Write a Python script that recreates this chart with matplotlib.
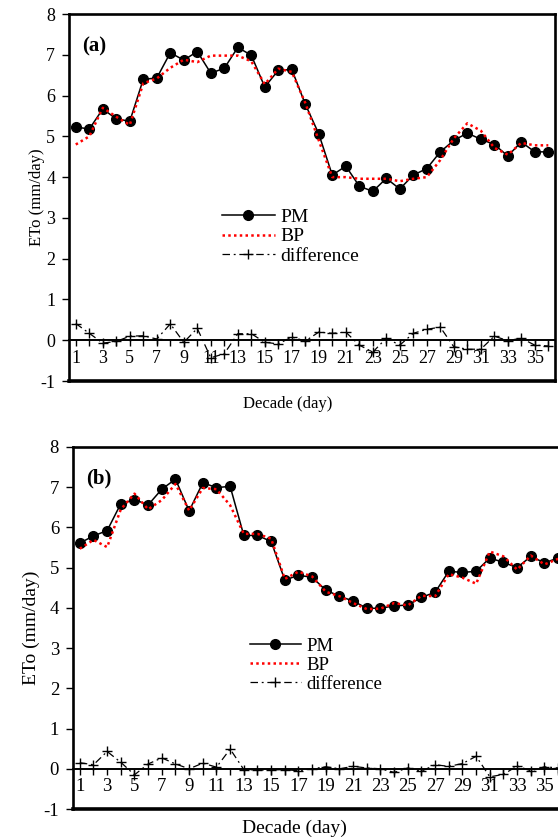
import matplotlib
matplotlib.use("Agg")
import matplotlib.pyplot as plt

plt.rcParams['font.family'] = ['Liberation Serif', 'DejaVu Serif']
plt.rcParams['axes.unicode_minus'] = False

decadas = list(range(1, 37))
rotulos_x = [str(d) if d % 2 == 1 else "" for d in decadas]
ticks_y = list(range(-1, 9))

# painel (a)
pm_a = [5.23, 5.18, 5.67, 5.43, 5.37, 6.40, 6.43, 7.05, 6.87, 7.08, 6.55, 6.67,
        7.18, 6.99, 6.21, 6.62, 6.64, 5.79, 5.06, 4.05, 4.27, 3.78, 3.65, 3.97,
        3.71, 4.05, 4.21, 4.62, 4.90, 5.08, 4.93, 4.80, 4.52, 4.86, 4.62, 4.62]
bp_a = [4.80, 5.00, 5.70, 5.48, 5.28, 6.30, 6.42, 6.68, 6.88, 6.82, 6.98, 6.98,
        6.98, 6.84, 6.28, 6.66, 6.58, 5.82, 4.90, 4.00, 4.00, 3.96, 3.96, 3.96,
        3.90, 3.96, 4.00, 4.42, 4.95, 5.32, 5.14, 4.72, 4.55, 4.84, 4.78, 4.78]
diff_a = [0.41, 0.17, -0.07, -0.03, 0.10, 0.11, 0.03, 0.40, -0.05, 0.29, -0.43, -0.33,
          0.16, 0.16, -0.05, -0.09, 0.08, -0.02, 0.20, 0.17, 0.20, -0.12, -0.29, 0.05,
          -0.12, 0.17, 0.27, 0.32, -0.16, -0.22, -0.22, 0.10, -0.01, 0.05, -0.12, -0.14]

# painel (b)
pm_b = [5.61, 5.79, 5.92, 6.59, 6.69, 6.56, 6.95, 7.20, 6.41, 7.11, 6.99, 7.02,
        5.80, 5.80, 5.65, 4.69, 4.81, 4.76, 4.44, 4.29, 4.17, 3.99, 3.99, 4.05,
        4.07, 4.26, 4.39, 4.91, 4.88, 4.91, 5.24, 5.13, 5.00, 5.28, 5.12, 5.24]
bp_b = [5.47, 5.69, 5.51, 6.45, 6.84, 6.45, 6.68, 7.08, 6.42, 6.98, 6.95, 6.55,
        5.84, 5.84, 5.72, 4.72, 4.90, 4.78, 4.40, 4.29, 4.12, 3.97, 3.98, 4.12,
        4.06, 4.30, 4.29, 4.84, 4.75, 4.60, 5.40, 5.28, 4.95, 5.30, 5.08, 5.22]
diff_b = [0.15, 0.10, 0.43, 0.16, -0.15, 0.12, 0.27, 0.12, 0.00, 0.14, 0.04, 0.49,
          -0.02, -0.03, -0.03, -0.02, -0.05, 0.00, 0.05, 0.00, 0.06, 0.02, 0.00, -0.09,
          0.02, -0.06, 0.10, 0.06, 0.13, 0.31, -0.20, -0.14, 0.07, -0.05, 0.05, 0.02]


def desenhar_painel(ax, pm, bp, diff, letra, fs, fs_label, fs_leg, leg_pos, ylab_x, xlab_y):
    ax.plot(decadas, pm, color='black', lw=1.1, marker='o', ms=7, label='PM', zorder=4)
    ax.plot(decadas, bp, color='#ff0000', lw=1.8, ls=(0, (1, 1.3)), label='BP', zorder=5)
    ax.plot(decadas, diff, color='black', lw=0.9, ls=(0, (6, 3, 1.5, 3)), marker='+',
            ms=7, mew=1.0, label='difference', zorder=3)

    ax.set_xlim(0.5, 36.5)
    ax.set_ylim(-1, 8)
    ax.set_yticks(ticks_y)
    ax.set_xticks(decadas)
    ax.set_xticklabels(rotulos_x)

    for lado in ['top', 'right', 'left']:
        ax.spines[lado].set_linewidth(1.9)
    ax.spines['bottom'].set_position(('data', 0))
    ax.spines['bottom'].set_linewidth(1.4)
    ax.axhline(-1, color='black', lw=2.6, clip_on=False, zorder=6)

    ax.tick_params(axis='y', direction='out', length=5, width=1, pad=5, labelsize=fs)
    ax.tick_params(axis='x', direction='out', length=4, width=1, pad=3, labelsize=fs)

    ax.set_ylabel('ETo (mm/day)', fontsize=fs_label)
    ax.yaxis.set_label_coords(ylab_x, 0.5)
    ax.set_xlabel('Decade (day)', fontsize=fs_label)
    ax.xaxis.set_label_coords(0.45, xlab_y)

    ax.text(0.027, 0.94, letra, transform=ax.transAxes, fontsize=15,
            fontweight='bold', va='top', ha='left')

    ax.legend(loc='upper left', bbox_to_anchor=leg_pos, frameon=False, fontsize=fs_leg,
              handlelength=2.7, handletextpad=0.3, labelspacing=0.1,
              borderpad=0, borderaxespad=0, numpoints=1)


fig = plt.figure(figsize=(5.58, 8.4), dpi=100)
ax_a = fig.add_axes([0.1237, 0.5464, 0.871, 0.4369])
ax_b = fig.add_axes([0.1308, 0.0369, 0.8817, 0.431])

desenhar_painel(ax_a, pm_a, bp_a, diff_a, '(a)', 13, 12, 14, (0.315, 0.471), -0.05, -0.04)
desenhar_painel(ax_b, pm_b, bp_b, diff_b, '(b)', 13.5, 14, 13.5, (0.36, 0.473), -0.068, -0.03)

fig.savefig('out.png', dpi=100)
print("ok")
